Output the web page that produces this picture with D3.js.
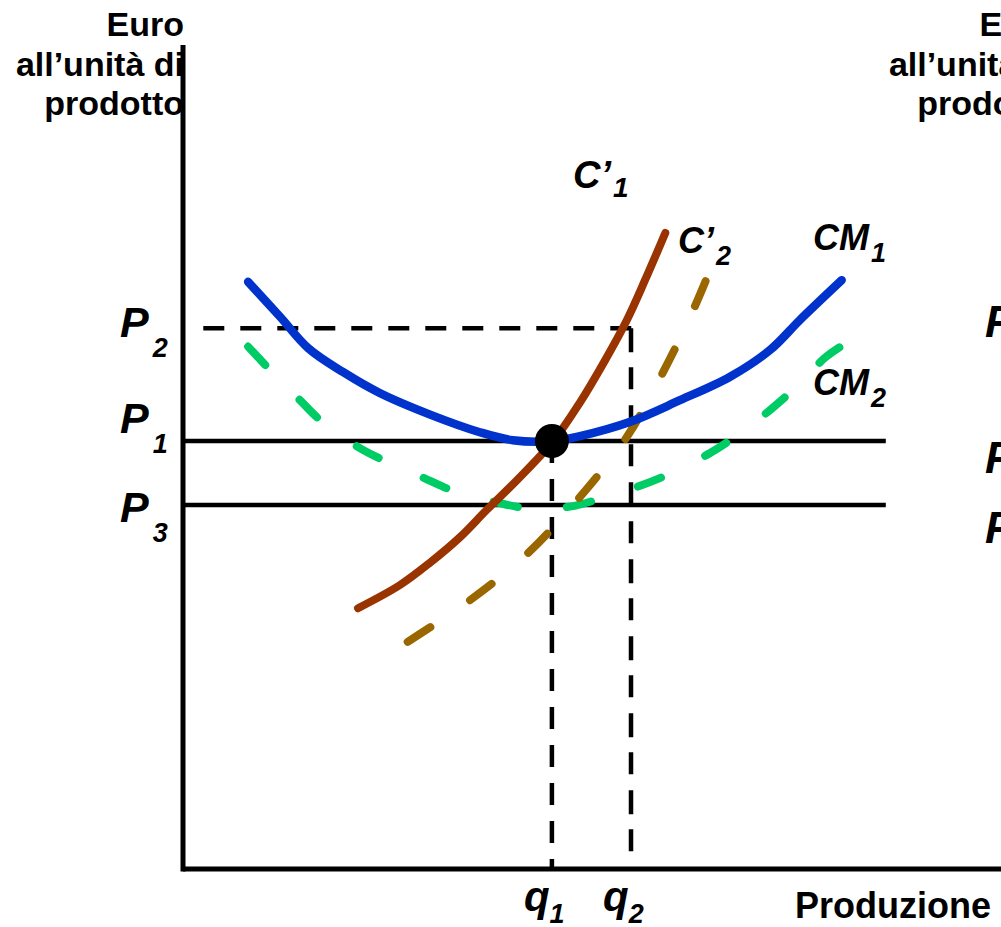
<!DOCTYPE html>
<html>
<head>
<meta charset="utf-8">
<script src="https://cdn.jsdelivr.net/npm/d3@7/dist/d3.min.js"></script>
<style>
  html, body { margin: 0; padding: 0; background: #fff; }
  svg { display: block; }
  text { font-family: "Liberation Sans", Arial, Helvetica, sans-serif; font-weight: bold; fill: #000; }
</style>
</head>
<body>
<svg id="chart" width="1001" height="927"></svg>
<script>
// ---------- DATA ----------
// Quantity units 0..100 on the x axis, euro-per-unit 0..100 on the y axis
const priceNames   = ["P", "P", "P"];
const priceSubs    = ["2", "1", "3"];
const priceValues  = [67.6, 53.5, 45.5];          // P2, P1, P3

const quantityNames  = ["q", "q"];
const quantitySubs   = ["1", "2"];
const quantityValues = [52.7, 64.0];              // q1, q2

const yAxisTitle = ["Euro", "all\u2019unit\u00e0 di", "prodotto"];
const xAxisTitle = "Produzione";

// CM1 : average cost (solid blue)
const cm1Points = [
  [9.3, 73.4], [13.9, 69.0], [17.9, 65.1], [22.9, 62.1], [28.1, 59.5],
  [35.3, 56.8], [42.4, 54.6], [47.1, 53.6], [52.9, 53.5], [56.7, 54.1],
  [63.9, 55.9], [71.0, 58.6], [78.1, 61.5], [83.9, 64.9], [88.1, 68.6], [94.1, 73.6]
];
// CM2 : average cost after the shift (dashed green)
const cm2Points = [
  [9.3, 65.3], [12.4, 62.4], [16.7, 58.6], [20.0, 55.8], [24.9, 52.8],
  [29.1, 50.9], [34.6, 48.8], [39.1, 47.1], [44.9, 45.8], [49.3, 45.1],
  [55.3, 45.3], [60.0, 46.4], [65.6, 48.0], [70.0, 49.6], [75.3, 52.0],
  [79.3, 54.3], [83.9, 57.4], [87.4, 60.1], [91.7, 63.9], [94.3, 65.5]
];
// C'1 : marginal cost (solid brown)
const c1Points = [
  [25.0, 32.6], [31.0, 35.5], [35.3, 38.3], [39.6, 41.5], [43.4, 44.9],
  [47.7, 48.6], [52.9, 53.5], [56.7, 58.3], [60.3, 63.6], [63.4, 68.6],
  [66.0, 73.6], [68.9, 79.5]
];
// C'2 : marginal cost after the shift (dashed ochre)
const c2Points = [
  [32.1, 28.4], [41.0, 33.6], [49.3, 39.5], [56.7, 46.5], [63.4, 54.0],
  [68.4, 61.8], [72.4, 68.9], [74.9, 74.0]
];
const curveNames = ["C\u2019", "C\u2019", "CM", "CM"];
const curveSubs  = ["1", "2", "1", "2"];

// ---------- LAYOUT / STYLE ----------
const svg = d3.select("#chart");
const x = d3.scaleLinear().domain([0, 100]).range([183, 883]);
const y = d3.scaleLinear().domain([0, 100]).range([869, 69]);
const xMaxAxis = x.invert(1001);
const yMaxAxis = y.invert(45);
const hLineEnd = 100.4;

const line = d3.line().x(d => x(d[0])).y(d => y(d[1])).curve(d3.curveCatmullRom.alpha(0.5));

// ---------- AXES ----------
svg.append("line")
  .attr("x1", x(0)).attr("x2", x(0))
  .attr("y1", y(yMaxAxis)).attr("y2", y(0) + 2.5)
  .attr("stroke", "#000").attr("stroke-width", 5);
svg.append("line")
  .attr("x1", x(0)).attr("x2", x(xMaxAxis))
  .attr("y1", y(0)).attr("y2", y(0))
  .attr("stroke", "#000").attr("stroke-width", 5);

// ---------- PRICE LINES ----------
const P2 = priceValues[0], P1 = priceValues[1], P3 = priceValues[2];
const q1 = quantityValues[0], q2 = quantityValues[1];

[P1, P3].forEach(v => {
  svg.append("line")
    .attr("x1", x(0)).attr("x2", x(hLineEnd))
    .attr("y1", y(v)).attr("y2", y(v))
    .attr("stroke", "#000").attr("stroke-width", 4.5);
});

// dashed P2 guide + q2 and q1 verticals
svg.append("line")
  .attr("x1", x(2.9)).attr("x2", x(q2) + 2)
  .attr("y1", y(P2)).attr("y2", y(P2))
  .attr("stroke", "#000").attr("stroke-width", 4.5)
  .attr("stroke-dasharray", "21,16");
svg.append("line")
  .attr("x1", x(q2)).attr("x2", x(q2))
  .attr("y1", y(P2)).attr("y2", y(0))
  .attr("stroke", "#000").attr("stroke-width", 4.5)
  .attr("stroke-dasharray", "24,15,22,16");
svg.append("line")
  .attr("x1", x(q1)).attr("x2", x(q1))
  .attr("y1", y(P1)).attr("y2", y(0))
  .attr("stroke", "#000").attr("stroke-width", 4.5)
  .attr("stroke-dasharray", "22,16");

// ---------- CURVES ----------
svg.append("path").datum(cm2Points)
  .attr("d", line).attr("fill", "none")
  .attr("stroke", "#00cc66").attr("stroke-width", 8)
  .attr("stroke-linecap", "round").attr("stroke-dasharray", "25,49");

svg.append("path").datum(c2Points)
  .attr("d", line).attr("fill", "none")
  .attr("stroke", "#996600").attr("stroke-width", 8)
  .attr("stroke-linecap", "round").attr("stroke-dasharray", "27,48");

svg.append("path").datum(cm1Points)
  .attr("d", line).attr("fill", "none")
  .attr("stroke", "#0033cc").attr("stroke-width", 8.5)
  .attr("stroke-linecap", "round").attr("stroke-linejoin", "round");

svg.append("path").datum(c1Points)
  .attr("d", line).attr("fill", "none")
  .attr("stroke", "#993300").attr("stroke-width", 8)
  .attr("stroke-linecap", "round").attr("stroke-linejoin", "round");

// equilibrium point
svg.append("circle")
  .attr("cx", x(q1)).attr("cy", y(P1)).attr("r", 17)
  .attr("fill", "#000");

// ---------- LABELS ----------
function subLabel(px, py, main, sub, size, subSize, subDx, subDy) {
  const t = svg.append("text")
    .attr("x", px).attr("y", py)
    .style("font-style", "italic").style("font-size", size + "px");
  t.append("tspan").text(main);
  t.append("tspan").attr("dx", subDx).attr("dy", subDy)
    .style("font-size", subSize + "px").text(sub);
  return t;
}

// y axis title (left) and its clipped twin on the right edge (as in the reference)
[184, 1057].forEach(ax => {
  const baselines = [36, 76, 115];
  yAxisTitle.forEach((s, i) => {
    svg.append("text")
      .attr("x", ax).attr("y", baselines[i])
      .attr("text-anchor", "end")
      .style("font-size", "34px")
      .text(s);
  });
});

// price labels (left)
const pLabelDy = [9, -8, 17];
priceValues.forEach((v, i) => {
  subLabel(120, y(v) + pLabelDy[i], priceNames[i], priceSubs[i], 43, 27, 4, 20);
});
// price labels on the clipped twin at the right edge
const pRightBase = [337, 473, 543];
priceValues.forEach((v, i) => {
  subLabel(985, pRightBase[i], priceNames[i], priceSubs[i], 44, 27, 4, 20);
});

// quantity labels
quantityValues.forEach((v, i) => {
  subLabel(x(v) - 28, 911, quantityNames[i], quantitySubs[i], 42, 27, 0, 12);
});

// x axis title
svg.append("text")
  .attr("x", 991).attr("y", 918)
  .attr("text-anchor", "end")
  .style("font-size", "36px")
  .text(xAxisTitle);

// curve labels
subLabel(573, 188, curveNames[0], curveSubs[0], 38, 28, 2, 9);
subLabel(678, 253, curveNames[1], curveSubs[1], 36, 27, 2, 12);
subLabel(813, 250, curveNames[2], curveSubs[2], 36, 27, 2, 12);
subLabel(813, 395, curveNames[3], curveSubs[3], 36, 27, 2, 12);
</script>
</body>
</html>
